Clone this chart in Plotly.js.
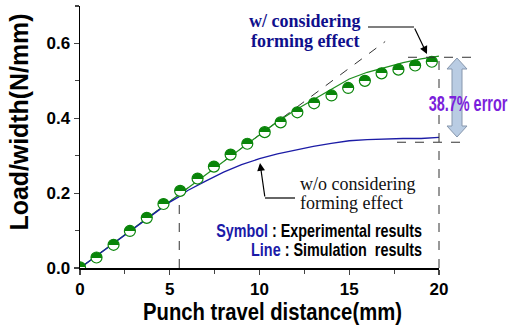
<!DOCTYPE html>
<html><head><meta charset="utf-8">
<script src="https://cdn.plot.ly/plotly-3.0.1.min.js"></script>
<style>html,body{margin:0;padding:0;background:#fff;}#chart{width:516px;height:327px;}</style>
</head><body><div id="chart"></div>
<script>
// Experimental results (symbols)
var expX = [0, 0.92, 1.87, 2.78, 3.72, 4.65, 5.58, 6.55, 7.46, 8.39, 9.32, 10.29, 11.18, 12.11, 13.04, 14.01, 14.94, 15.87, 16.80, 17.74, 18.67, 19.60];
var expY = [0.002, 0.028, 0.062, 0.099, 0.134, 0.171, 0.206, 0.239, 0.271, 0.303, 0.332, 0.363, 0.389, 0.416, 0.440, 0.461, 0.481, 0.500, 0.520, 0.530, 0.541, 0.551];
// Simulation w/ forming effect
var simWX = [0, 2, 4, 6, 8, 10, 11, 12, 13, 14, 15, 16, 17, 18, 19, 19.6, 20];
var simWY = [0, 0.071, 0.142, 0.213, 0.285, 0.356, 0.391, 0.422, 0.450, 0.477, 0.505, 0.523, 0.537, 0.549, 0.559, 0.564, 0.566];
// Simulation w/o forming effect
var simOX = [0, 2, 4, 5, 5.5, 6, 7, 8, 9, 10, 11, 12, 13, 14, 15, 16, 17, 18, 19, 19.5, 20];
var simOY = [0, 0.071, 0.142, 0.176, 0.190, 0.207, 0.232, 0.256, 0.276, 0.292, 0.305, 0.316, 0.325, 0.333, 0.340, 0.343, 0.345, 0.346, 0.346, 0.347, 0.349];
// axis ticks
var xTicks = [0, 5, 10, 15, 20];
var yTicks = [0.0, 0.2, 0.4, 0.6];
var yTickText = ['0.0', '0.2', '0.4', '0.6'];

var L = 80, R = 77, T = 6, B = 59, W = 516, H = 327;
var PW = W - L - R, PH = H - T - B;
function X(px) { return (px - L) / PW; }
function Y(py) { return (H - B - py) / PH; }

var green = '#0a850a', blue = '#1c1ca6', navy = '#0f0f8c';
var dash = {color: '#333', width: 1, dash: 'dash'};

var traces = [
  {x: simWX, y: simWY, mode: 'lines', line: {color: '#1f8f1f', width: 1.3}, hoverinfo: 'skip'},
  {x: simOX, y: simOY, mode: 'lines', line: {color: blue, width: 1.3}, hoverinfo: 'skip'},
  {x: expX, y: expY, mode: 'markers', hoverinfo: 'skip',
   marker: {symbol: 'circle', size: 11, color: green, gradient: {type: 'vertical', color: '#ffffff'},
            line: {color: green, width: 1.2}}}
];

var tnr = 'Times New Roman, Liberation Serif, serif';
var arialB = 'Arial, Liberation Sans, sans-serif';

var shapes = [
  {type: 'line', xref: 'x', yref: 'y', x0: 0, y0: 0, x1: 17.0, y1: 0.605, line: dash, layer: 'below'},
  {type: 'line', xref: 'x', yref: 'y', x0: 5.53, y0: 0, x1: 5.53, y1: 0.173, line: dash, layer: 'below'},
  {type: 'line', xref: 'paper', yref: 'y', x0: 1, y0: 0, x1: 1, y1: 0.564, line: dash},
  {type: 'line', xref: 'paper', yref: 'y', x0: X(408), y0: 0.563, x1: X(480), y1: 0.563, line: dash},
  {type: 'line', xref: 'paper', yref: 'y', x0: X(397), y0: 0.336, x1: X(468), y1: 0.336, line: dash},
  // arrow leader lines
  {type: 'line', xref: 'paper', yref: 'paper', x0: X(368), y0: Y(27), x1: X(414), y1: Y(27), line: {color: '#000', width: 1.2}},
  {type: 'line', xref: 'paper', yref: 'paper', x0: X(265), y0: Y(198), x1: X(295), y1: Y(198), line: {color: '#000', width: 1.2}},
  // double-headed error arrow
  {type: 'path', xref: 'paper', yref: 'paper',
   path: 'M' + X(457) + ',' + Y(58) + ' L' + X(467) + ',' + Y(69) + ' L' + X(462) + ',' + Y(69) +
         ' L' + X(462) + ',' + Y(126) + ' L' + X(467) + ',' + Y(126) + ' L' + X(457) + ',' + Y(137) +
         ' L' + X(447) + ',' + Y(126) + ' L' + X(452) + ',' + Y(126) + ' L' + X(452) + ',' + Y(69) +
         ' L' + X(447) + ',' + Y(69) + ' Z',
   fillcolor: '#b9cce3', line: {color: '#8797ad', width: 1}}
];

var annotations = [
  {xref: 'paper', yref: 'paper', x: X(305), y: Y(21), text: '<b>w/ considering</b>', showarrow: false,
   font: {family: tnr, size: 18, color: navy}, xanchor: 'center', yanchor: 'middle'},
  {xref: 'paper', yref: 'paper', x: X(305), y: Y(41), text: '<b>forming effect</b>', showarrow: false,
   font: {family: tnr, size: 18, color: navy}, xanchor: 'center', yanchor: 'middle'},
  {xref: 'paper', yref: 'paper', x: X(298), y: Y(184), text: 'w/o considering', showarrow: false,
   font: {family: tnr, size: 18, color: '#111'}, xanchor: 'left', yanchor: 'middle'},
  {xref: 'paper', yref: 'paper', x: X(298), y: Y(203), text: 'forming effect', showarrow: false,
   font: {family: tnr, size: 18, color: '#111'}, xanchor: 'left', yanchor: 'middle'},
  {xref: 'paper', yref: 'paper', x: X(427), y: Y(54), ax: 414 - 427, ay: 27 - 54, text: '', showarrow: true,
   arrowhead: 2, arrowsize: 1.3, arrowwidth: 1.2, arrowcolor: '#000'},
  {xref: 'paper', yref: 'paper', x: X(260), y: Y(163), ax: 265 - 260, ay: 198 - 163, text: '', showarrow: true,
   arrowhead: 2, arrowsize: 1.3, arrowwidth: 1.2, arrowcolor: '#000'},
  {xref: 'paper', yref: 'paper', x: X(468), y: Y(103), text: '<b>38.7% error</b>', showarrow: false,
   font: {family: arialB, size: 22, color: '#7b1fdc'}, xanchor: 'center', yanchor: 'middle'},
  {xref: 'paper', yref: 'paper', x: X(424), y: Y(231),
   text: '<b><span style="color:#1a1aa8">Symbol</span> : Experimental results</b>', showarrow: false,
   font: {family: arialB, size: 18, color: '#000'}, xanchor: 'right', yanchor: 'middle'},
  {xref: 'paper', yref: 'paper', x: X(424), y: Y(250),
   text: '<b><span style="color:#1a1aa8">Line</span> : Simulation\u00a0 results</b>', showarrow: false,
   font: {family: arialB, size: 18, color: '#000'}, xanchor: 'right', yanchor: 'middle'}
];

// target widths (px) for the condensed labels: [annotation index, width, pivot]
var squeezeList = [[6, 79, 'center'], [7, 206, 'right'], [8, 171, 'right']];

var layout = {
  width: W, height: H, margin: {l: L, r: R, t: T, b: B},
  paper_bgcolor: '#fff', plot_bgcolor: '#fff', showlegend: false,
  font: {family: arialB, color: '#000'},
  xaxis: {range: [0, 20], tickvals: xTicks, ticktext: xTicks.map(String), ticks: 'outside', ticklen: 5, tickwidth: 1.2,
          minor: {dtick: 2.5, tick0: 0, ticks: 'outside', ticklen: 4, tickwidth: 1.2, showgrid: false},
          showline: true, linewidth: 1.5, linecolor: '#000', showgrid: false, zeroline: false,
          tickfont: {family: arialB, size: 17, weight: 'bold'},
          title: {text: '<b>Punch travel distance(mm)</b>', font: {family: arialB, size: 23}, standoff: 6}},
  yaxis: {range: [0, 0.7], tickvals: yTicks, ticktext: yTickText, ticks: 'outside', ticklen: 5, tickwidth: 1.2,
          minor: {dtick: 0.1, tick0: 0, ticks: 'outside', ticklen: 4, tickwidth: 1.2, showgrid: false},
          showline: true, linewidth: 1.5, linecolor: '#000', showgrid: false, zeroline: false,
          tickfont: {family: arialB, size: 17, weight: 'bold'},
          title: {text: '<b>Load/width(N/mm)</b>', font: {family: arialB, size: 25}, standoff: 10}},
  shapes: shapes, annotations: annotations
};

// horizontal condensing of a text element along its own direction, with an optional shift along it
function squeeze(t, target, pivot, shift) {
  if (!t) return;
  var bb = t.getBBox();
  if (!bb.width) return;
  var s = target / bb.width;
  var px = pivot === 'right' ? bb.x + bb.width : bb.x + bb.width / 2;
  var prev = t.getAttribute('transform') || '';
  t.setAttribute('transform', prev + ' translate(' + ((shift || 0) + px * (1 - s)) + ',0) scale(' + s + ',1)');
}

Plotly.newPlot('chart', traces, layout, {displayModeBar: false, staticPlot: true}).then(function (gd) {
  var NS = 'http://www.w3.org/2000/svg';
  // sharp half-filled circle markers (top green, bottom white)
  gd.querySelectorAll('linearGradient').forEach(function (g) {
    g.removeAttribute('gradientUnits');
    g.removeAttribute('gradientTransform');
    g.setAttribute('x1', '0'); g.setAttribute('y1', '0');
    g.setAttribute('x2', '0'); g.setAttribute('y2', '1');
    while (g.firstChild) g.removeChild(g.firstChild);
    [['0', green], ['0.5', green], ['0.5', '#ffffff'], ['1', '#ffffff']].forEach(function (s) {
      var st = document.createElementNS(NS, 'stop');
      st.setAttribute('offset', s[0]);
      st.setAttribute('stop-color', s[1]);
      g.appendChild(st);
    });
  });
  // condensed look for the bold sans labels
  squeezeList.forEach(function (q) {
    squeeze(gd.querySelector('g.annotation[data-index="' + q[0] + '"] text.annotation-text'), q[1], q[2]);
  });
  squeeze(gd.querySelector('text.xtitle'), 259, 'center', 13);
  squeeze(gd.querySelector('text.ytitle'), 217, 'center', 15);
});
</script>
</body></html>
